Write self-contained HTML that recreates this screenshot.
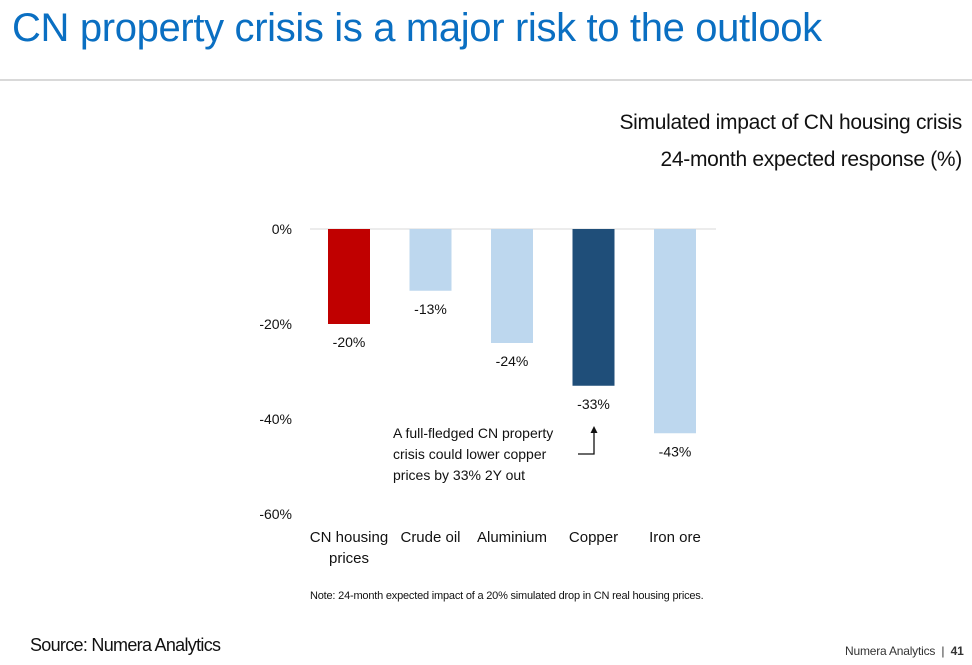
<!DOCTYPE html>
<html><head><meta charset="utf-8"><style>
body{margin:0;width:972px;height:665px;background:#fff;font-family:"Liberation Sans",Arial,sans-serif;overflow:hidden;position:relative}
.t{position:absolute;white-space:nowrap}
svg text{font-family:"Liberation Sans",Arial,sans-serif}
</style></head><body>
<div class="t" style="left:12px;top:6px;font-size:40px;color:#0a6fc2;letter-spacing:-0.35px">CN property crisis is a major risk to the outlook</div>
<div style="position:absolute;left:0;top:79px;width:972px;height:2px;background:#d9d9d9"></div>
<div class="t" style="right:10px;top:104px;font-size:21px;text-align:right;line-height:37px;color:#111;letter-spacing:-0.3px">Simulated impact of CN housing crisis<br>24-month expected response (%)</div>
<svg id="c" width="972" height="665" style="position:absolute;left:0;top:0"></svg>
<div class="t" style="left:310px;top:590px;font-size:11px;color:#111;letter-spacing:-0.2px">Note: 24-month expected impact of a 20% simulated drop in CN real housing prices.</div>
<div class="t" style="left:30px;top:635px;font-size:18px;color:#111;letter-spacing:-0.7px">Source: Numera Analytics</div>
<div class="t" style="left:845px;top:644px;font-size:12px;color:#333;letter-spacing:-0.2px">Numera Analytics &nbsp;| &nbsp;<b>41</b></div>
<script>
const categories=["CN housing|prices","Crude oil","Aluminium","Copper","Iron ore"];
const values=[-20,-13,-24,-33,-43];
const colors=["#c00000","#bdd7ee","#bdd7ee","#1f4e79","#bdd7ee"];
const ticks=[0,-20,-40,-60];
const NS="http://www.w3.org/2000/svg";
const svg=document.getElementById('c');
const y=v=>229-v*4.75;
const x=i=>349+i*81.5;
function mk(t,a,txt){const e=document.createElementNS(NS,t);for(const k in a)e.setAttribute(k,a[k]);if(txt!=null)e.textContent=txt;svg.appendChild(e);return e;}
ticks.forEach(t=>{
 const e=mk('text',{x:292,y:y(t)+5,'text-anchor':'end','font-size':14,fill:'#111'},t+'%');
 
 
});
const g=mk('line',{x1:310,x2:716,y1:y(0),y2:y(0),stroke:'#d9d9d9','stroke-width':1});


values.forEach((v,i)=>{
 const r=mk('rect',{x:x(i)-21,y:y(0),width:42,height:y(v)-y(0),fill:colors[i]});
 
 
 const l=mk('text',{x:x(i),y:y(v)+23,'text-anchor':'middle','font-size':14,fill:'#111'},v+'%');
 
 
 categories[i].split('|').forEach((s,j)=>{
  const c=mk('text',{x:x(i),y:542+j*21,'text-anchor':'middle','font-size':15,fill:'#111'},s);
  
  
 });
});
const ann=["A full-fledged CN property","crisis could lower copper","prices by 33% 2Y out"];
ann.forEach((s,j)=>{
 const a=mk('text',{x:393,y:438+j*21,'font-size':14,fill:'#111'},s);
 
 
});
const p=mk('path',{d:'M578 454 H594 V432',fill:'none',stroke:'#111','stroke-width':1.3});


const h=mk('path',{d:'M590.5 433 L594 426 L597.5 433 Z',fill:'#111'});


</script>
</body></html>
